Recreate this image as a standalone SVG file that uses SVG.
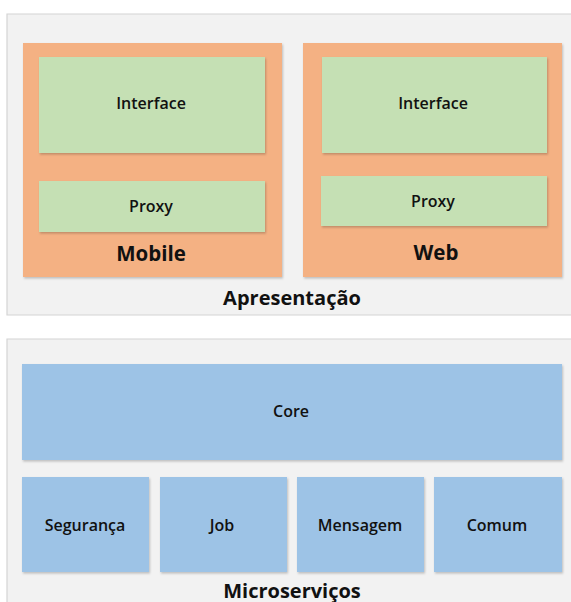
<svg xmlns="http://www.w3.org/2000/svg" width="571" height="602" viewBox="0 0 571 602">
  <style>
    .panel { fill: #f2f2f2; }
    .edge { fill: none; stroke: #d4d4d4; stroke-width: 1.2; }
    .layer { fill: #f4b183; filter: url(#shadow); }
    .green { fill: #c5e0b4; filter: url(#shadow); }
    .blue { fill: #9dc3e6; filter: url(#shadow); }
    text { font-family: "Open Sans", "Noto Sans", sans-serif; fill: #111; text-anchor: middle; dominant-baseline: central; }
    .small { font-size: 16px; font-weight: 600; }
    .big { font-size: 20.5px; font-weight: bold; }
    .title { font-size: 20px; font-weight: bold; }
  </style>
  <defs>
    <filter id="shadow" x="-5%" y="-5%" width="110%" height="115%">
      <feDropShadow dx="1" dy="1.5" stdDeviation="1.2" flood-color="#000" flood-opacity="0.22"/>
    </filter>
  </defs>

  <!-- Presentation tier -->
  <g id="apresentacao">
    <rect class="panel" x="7" y="14" width="570" height="301"/>
    <path class="edge" d="M572 14 H7 V315 H572"/>
    <text class="title" x="292" y="297">Apresentação</text>
  </g>
  <g id="mobile">
    <rect class="layer" x="23" y="43" width="259" height="234"/>
    <text class="big" x="151" y="253">Mobile</text>
  </g>
  <g id="mobile-interface">
    <rect class="green" x="39" y="57" width="226" height="96"/>
    <text class="small" x="151" y="103">Interface</text>
  </g>
  <g id="mobile-proxy">
    <rect class="green" x="39" y="181" width="226" height="51"/>
    <text class="small" x="151" y="206">Proxy</text>
  </g>
  <g id="web">
    <rect class="layer" x="303" y="43" width="259" height="234"/>
    <text class="big" x="436" y="252">Web</text>
  </g>
  <g id="web-interface">
    <rect class="green" x="322" y="57" width="225" height="96"/>
    <text class="small" x="433" y="103">Interface</text>
  </g>
  <g id="web-proxy">
    <rect class="green" x="321" y="176" width="226" height="50"/>
    <text class="small" x="433" y="201">Proxy</text>
  </g>

  <!-- Microservices tier -->
  <g id="microservicos">
    <rect class="panel" x="7" y="339" width="570" height="270"/>
    <path class="edge" d="M572 339 H7 V603"/>
    <text class="title" x="292" y="590">Microserviços</text>
  </g>
  <g id="core">
    <rect class="blue" x="22" y="364" width="540" height="96"/>
    <text class="small" x="291" y="411">Core</text>
  </g>
  <g id="seguranca">
    <rect class="blue" x="22" y="477" width="127" height="95"/>
    <text class="small" x="85" y="525">Segurança</text>
  </g>
  <g id="job">
    <rect class="blue" x="160" y="477" width="127" height="95"/>
    <text class="small" x="222" y="525">Job</text>
  </g>
  <g id="mensagem">
    <rect class="blue" x="297" y="477" width="127" height="95"/>
    <text class="small" x="360" y="525">Mensagem</text>
  </g>
  <g id="comum">
    <rect class="blue" x="434" y="477" width="128" height="95"/>
    <text class="small" x="497" y="525">Comum</text>
  </g>

  <g id="connectors"></g>
</svg>
